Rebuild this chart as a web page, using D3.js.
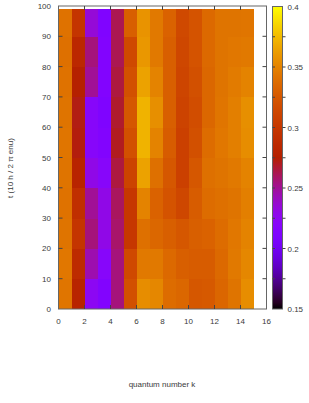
<!DOCTYPE html>
<html><head><meta charset="utf-8">
<script src="https://cdn.jsdelivr.net/npm/d3@7"></script>
<style>
html,body{margin:0;padding:0;background:#fff;}
text{font-family:"Liberation Sans",Arial,sans-serif;fill:#3a3a3a;}
</style></head>
<body><svg id="c" width="309" height="403"></svg>
<script>
// quantum numbers k (one column each, spanning [k, k+1])
const kValues = [0,1,2,3,4,5,6,7,8,9,10,11,12,13,14];
// time bin edges (t)
const tEdges = [0,10,20,30,40,50,60,70,80,90,99];
// values per column k, bottom (t=0) to top (t=99)
const col0  = [0.343,0.344,0.342,0.341,0.342,0.343,0.342,0.341,0.340,0.341];
const col1  = [0.280,0.288,0.298,0.292,0.280,0.273,0.272,0.276,0.285,0.298];
const col2  = [0.225,0.245,0.255,0.250,0.230,0.220,0.220,0.250,0.255,0.235];
const col3  = [0.215,0.220,0.230,0.230,0.220,0.215,0.212,0.215,0.215,0.213];
const col4  = [0.255,0.255,0.258,0.260,0.265,0.270,0.268,0.265,0.262,0.262];
const col5  = [0.320,0.315,0.300,0.300,0.310,0.320,0.325,0.320,0.315,0.330];
const col6  = [0.355,0.345,0.340,0.350,0.365,0.372,0.372,0.365,0.360,0.358];
const col7  = [0.352,0.345,0.335,0.332,0.340,0.350,0.356,0.350,0.345,0.345];
const col8  = [0.338,0.336,0.330,0.322,0.325,0.328,0.330,0.330,0.330,0.332];
const col9  = [0.335,0.330,0.325,0.313,0.308,0.308,0.310,0.312,0.313,0.315];
const col10 = [0.325,0.328,0.330,0.328,0.325,0.320,0.318,0.320,0.322,0.322];
const col11 = [0.326,0.328,0.332,0.338,0.340,0.338,0.335,0.335,0.336,0.336];
const col12 = [0.334,0.336,0.338,0.340,0.342,0.344,0.343,0.342,0.342,0.342];
const col13 = [0.342,0.345,0.344,0.342,0.345,0.348,0.348,0.346,0.344,0.342];
const col14 = [0.355,0.352,0.350,0.348,0.350,0.355,0.356,0.350,0.345,0.343];
const columns = [col0,col1,col2,col3,col4,col5,col6,col7,col8,col9,col10,col11,col12,col13,col14];
const xTicks = [0,2,4,6,8,10,12,14,16];
const yTicks = [0,10,20,30,40,50,60,70,80,90,100];
const cbTicks = [0.15,0.2,0.25,0.3,0.35,0.4];
const cbMinor = [0.175,0.225,0.275,0.325,0.375];
const cbTickLabels = ["0.15","0.2","0.25","0.3","0.35","0.4"];

const svg = d3.select("#c");
const x = d3.scaleLinear().domain([0,16]).range([58.5,266.5]);
const y = d3.scaleLinear().domain([0,100]).range([309,6]);
const cmin = 0.15, cmax = 0.4;
function pal(v){
  let s = Math.max(0, Math.min(1, (v-cmin)/(cmax-cmin)));
  const r = Math.sqrt(s), g = s*s*s, b = Math.max(0, Math.sin(2*Math.PI*s));
  return d3.rgb(r*255, g*255, b*255).toString();
}

const cells = [];
kValues.forEach((k,i)=>{
  columns[i].forEach((v,j)=>cells.push({k, t0:tEdges[j], t1:tEdges[j+1], v}));
});
svg.append("g").selectAll("rect").data(cells).join("rect")
  .attr("x", d=>x(d.k)).attr("width", d=>x(d.k+1)-x(d.k)+0.4)
  .attr("y", d=>y(d.t1)).attr("height", d=>y(d.t0)-y(d.t1)+0.4)
  .attr("fill", d=>pal(d.v)).attr("shape-rendering","crispEdges");

const axCol = "#666";
// frame
svg.append("rect").attr("x",x(0)).attr("y",y(100)).attr("width",x(16)-x(0)).attr("height",y(0)-y(100))
  .attr("fill","none").attr("stroke",axCol).attr("stroke-width",1);

// ticks
const tl = 4;
xTicks.slice(1,-1).forEach(t=>{
  svg.append("line").attr("x1",x(t)).attr("x2",x(t)).attr("y1",y(0)).attr("y2",y(0)-tl).attr("stroke","#444");
  svg.append("line").attr("x1",x(t)).attr("x2",x(t)).attr("y1",y(100)).attr("y2",y(100)+tl).attr("stroke","#444");
});
yTicks.slice(1,-1).forEach(t=>{
  svg.append("line").attr("x1",x(0)).attr("x2",x(0)+tl).attr("y1",y(t)).attr("y2",y(t)).attr("stroke","#444");
  svg.append("line").attr("x1",x(16)).attr("x2",x(16)-tl).attr("y1",y(t)).attr("y2",y(t)).attr("stroke","#444");
});
svg.append("g").selectAll("text").data(xTicks).join("text")
  .attr("x", d=>x(d)).attr("y", 324).attr("text-anchor","middle").attr("font-size","8px").text(d=>d);
svg.append("g").selectAll("text").data(yTicks).join("text")
  .attr("x", 51).attr("y", d=>y(d)+3).attr("text-anchor","end").attr("font-size","8px").text(d=>d);

// axis titles
svg.append("text").attr("x",162).attr("y",387).attr("text-anchor","middle").attr("font-size","8px").text("quantum number k");
svg.append("text").attr("transform","translate(13,168) rotate(-90)").attr("text-anchor","middle").attr("font-size","8px").text("t (10 h / 2 π enu)");

// colorbar
const cy = d3.scaleLinear().domain([cmin,cmax]).range([309,6.5]);
const cbx0 = 272.5, cbx1 = 282.5;
const defs = svg.append("defs");
const grad = defs.append("linearGradient").attr("id","cbg").attr("x1",0).attr("x2",0).attr("y1",1).attr("y2",0);
d3.range(0,1.0001,0.02).forEach(s=>{
  grad.append("stop").attr("offset",s).attr("stop-color",pal(cmin+s*(cmax-cmin)));
});
svg.append("rect").attr("x",cbx0).attr("y",cy(cmax)).attr("width",cbx1-cbx0).attr("height",cy(cmin)-cy(cmax))
  .attr("fill","url(#cbg)").attr("stroke",axCol).attr("stroke-width",1);
cbTicks.slice(1,-1).concat(cbMinor).forEach(t=>{
  svg.append("line").attr("x1",cbx1).attr("x2",cbx1+3).attr("y1",cy(t)).attr("y2",cy(t)).attr("stroke","#444");
  svg.append("line").attr("x1",cbx0).attr("x2",cbx0+2.5).attr("y1",cy(t)).attr("y2",cy(t)).attr("stroke","#444");
});
svg.append("g").selectAll("text").data(cbTicks).join("text")
  .attr("x", 287.5).attr("y", d=>cy(d)+3).attr("font-size","8px").text((d,i)=>cbTickLabels[i]);
</script></body></html>
